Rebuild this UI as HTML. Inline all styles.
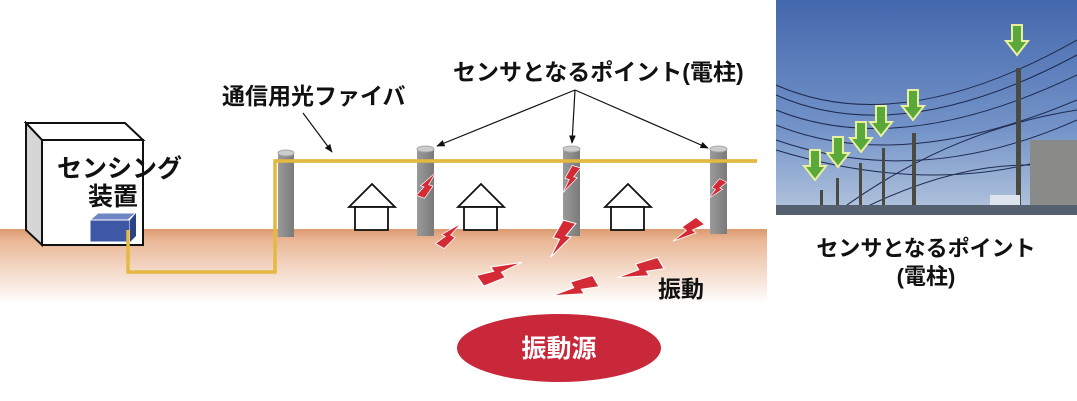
<!DOCTYPE html>
<html><head><meta charset="utf-8"><style>
html,body{margin:0;padding:0;background:#fff;width:1077px;height:401px;overflow:hidden}
text{font-family:"Liberation Sans","Noto Sans CJK JP",sans-serif;font-weight:bold}
</style></head><body>
<svg width="1077" height="401" viewBox="0 0 1077 401" xmlns="http://www.w3.org/2000/svg">
<defs>
<linearGradient id="gr" x1="0" y1="0" x2="0" y2="1">
<stop offset="0" stop-color="#dc9a70"/><stop offset="0.15" stop-color="#eab796"/><stop offset="1" stop-color="#ffffff"/>
</linearGradient>
<linearGradient id="sky" x1="0" y1="0" x2="0" y2="1">
<stop offset="0" stop-color="#4468ad"/><stop offset="0.6" stop-color="#7393c8"/><stop offset="1" stop-color="#b5c6de"/>
</linearGradient>
<linearGradient id="pole" x1="0" y1="0" x2="1" y2="0">
<stop offset="0" stop-color="#9a9a9a"/><stop offset="0.5" stop-color="#8a8a8a"/><stop offset="1" stop-color="#7a7a7a"/>
</linearGradient>
<marker id="ah" viewBox="0 0 10 10" refX="9" refY="5" markerWidth="7" markerHeight="7" orient="auto"><path d="M0,1 L10,5 L0,9 z" fill="#111"/></marker>
<g id="bolt"><polygon points="-3,-15 7,-15 2,-4 6,-4 -5,15 -2,0 -7,0" fill="#d42a35" stroke="#fff" stroke-width="0.8"/></g>
<g id="garrow"><polygon points="-5,0 5,0 5,16 11,16 0,30 -11,16 -5,16" fill="#5aa83a" stroke="#e8f0a0" stroke-width="2"/></g>
</defs>
<rect x="0" y="229" width="767" height="75" fill="url(#gr)"/>
<polygon points="26,123 125,123 143,140 42,140" fill="#fff" stroke="#111" stroke-width="2"/>
<polygon points="26,123 42,140 42,245 26,230" fill="#d6d6d6" stroke="#111" stroke-width="2"/>
<rect x="42" y="140" width="101" height="105" fill="#fff" stroke="#111" stroke-width="2"/>
<polygon points="90,220 128,220 136,213 98,213" fill="#6f86c4" stroke="#fff" stroke-width="1"/>
<rect x="90" y="220" width="40" height="22" fill="#3f58a6" stroke="#fff" stroke-width="1"/>
<polygon points="130,220 136,213 136,236 130,242" fill="#2c4288"/>
<text x="57" y="177" font-size="25" fill="#111">センシング</text>
<text x="88" y="205" font-size="25" fill="#111">装置</text>
<polyline points="128,230 128,272 275,272 275,161 757,161" fill="none" stroke="#e3b940" stroke-width="3.5"/>
<g>
<rect x="278" y="153" width="16" height="84" fill="url(#pole)"/><ellipse cx="286" cy="153" rx="8" ry="3" fill="#ccc" stroke="#aaa"/>
<rect x="417" y="149" width="17" height="87" fill="url(#pole)"/><ellipse cx="425.5" cy="149" rx="8.5" ry="3" fill="#ccc" stroke="#aaa"/>
<rect x="563" y="149" width="17" height="87" fill="url(#pole)"/><ellipse cx="571.5" cy="149" rx="8.5" ry="3" fill="#ccc" stroke="#aaa"/>
<rect x="710" y="149" width="17" height="85" fill="url(#pole)"/><ellipse cx="718.5" cy="149" rx="8.5" ry="3" fill="#ccc" stroke="#aaa"/>
</g>
<polyline points="275,161 757,161" stroke="#e3b940" stroke-width="3.5"/>
<g fill="#fff" stroke="#111" stroke-width="1.8">
<polygon points="349,207 372,184 395,207"/><rect x="355" y="207" width="33" height="23"/>
<polygon points="458,207 481,184 504,207"/><rect x="464" y="207" width="33" height="23"/>
<polygon points="605,207 628,184 651,207"/><rect x="611" y="207" width="33" height="23"/>
</g>
<use href="#bolt" transform="translate(427,184) rotate(-160) scale(0.9,0.95)"/>
<use href="#bolt" transform="translate(571,180) rotate(15) scale(0.9,0.95)"/>
<use href="#bolt" transform="translate(717,190) rotate(25) scale(0.8,0.75)"/>
<use href="#bolt" transform="translate(449,234) rotate(-150) scale(1.0,1.0)"/>
<use href="#bolt" transform="translate(562,240) rotate(15) scale(1.3,1.3)"/>
<use href="#bolt" transform="translate(688,232) rotate(40) scale(1.1,1.1)"/>
<use href="#bolt" transform="translate(500,270) rotate(-125) scale(1.3,1.5)"/>
<use href="#bolt" transform="translate(575,290) rotate(60) scale(1.3,1.5)"/>
<use href="#bolt" transform="translate(640,272) rotate(60) scale(1.3,1.5)"/>
<text x="222" y="104" font-size="23" fill="#111">通信用光ファイバ</text>
<line x1="303" y1="113" x2="332" y2="152" stroke="#111" stroke-width="1.2" marker-end="url(#ah)"/>
<text x="453" y="80" font-size="23" fill="#111">センサとなるポイント(電柱)</text>
<line x1="575" y1="90" x2="437" y2="146" stroke="#111" stroke-width="1.2" marker-end="url(#ah)"/>
<line x1="575" y1="90" x2="572" y2="143" stroke="#111" stroke-width="1.2" marker-end="url(#ah)"/>
<line x1="575" y1="90" x2="708" y2="148" stroke="#111" stroke-width="1.2" marker-end="url(#ah)"/>
<text x="658" y="297" font-size="23" fill="#111">振動</text>
<ellipse cx="559" cy="348" rx="102" ry="34" fill="#c8283a"/>
<text x="559" y="357" font-size="25" fill="#fff" text-anchor="middle">振動源</text>
<rect x="776" y="0" width="301" height="215" fill="url(#sky)"/>
<g stroke="#1e2a50" stroke-width="1" fill="none">
<path d="M776,85 Q900,140 1077,40"/><path d="M776,95 Q900,150 1077,55"/><path d="M776,110 Q900,160 1077,75"/>
<path d="M776,125 Q900,175 1077,100"/><path d="M776,140 Q920,190 1077,120"/><path d="M776,150 Q940,200 1077,150"/>
<path d="M840,210 Q950,130 1077,110"/><path d="M860,210 Q980,150 1077,170"/>
</g>
<g fill="#4a4a40">
<rect x="1016" y="68" width="5" height="147"/><rect x="912" y="133" width="4" height="82"/>
<rect x="882" y="148" width="3" height="67"/><rect x="859" y="163" width="3" height="52"/>
<rect x="836" y="178" width="3" height="37"/><rect x="820" y="190" width="3" height="25"/>
</g>
<rect x="1030" y="140" width="47" height="75" fill="#8a8a88"/>
<rect x="990" y="195" width="30" height="20" fill="#dde4ee"/>
<rect x="776" y="205" width="301" height="10" fill="#556070"/>
<use href="#garrow" transform="translate(1017,25)"/>
<use href="#garrow" transform="translate(913,90)"/>
<use href="#garrow" transform="translate(881,106)"/>
<use href="#garrow" transform="translate(861,122)"/>
<use href="#garrow" transform="translate(838,137)"/>
<use href="#garrow" transform="translate(815,150)"/>
<text x="926" y="256" font-size="22" fill="#111" text-anchor="middle">センサとなるポイント</text>
<text x="926" y="284" font-size="22" fill="#111" text-anchor="middle">(電柱)</text>
</svg>
</body></html>
